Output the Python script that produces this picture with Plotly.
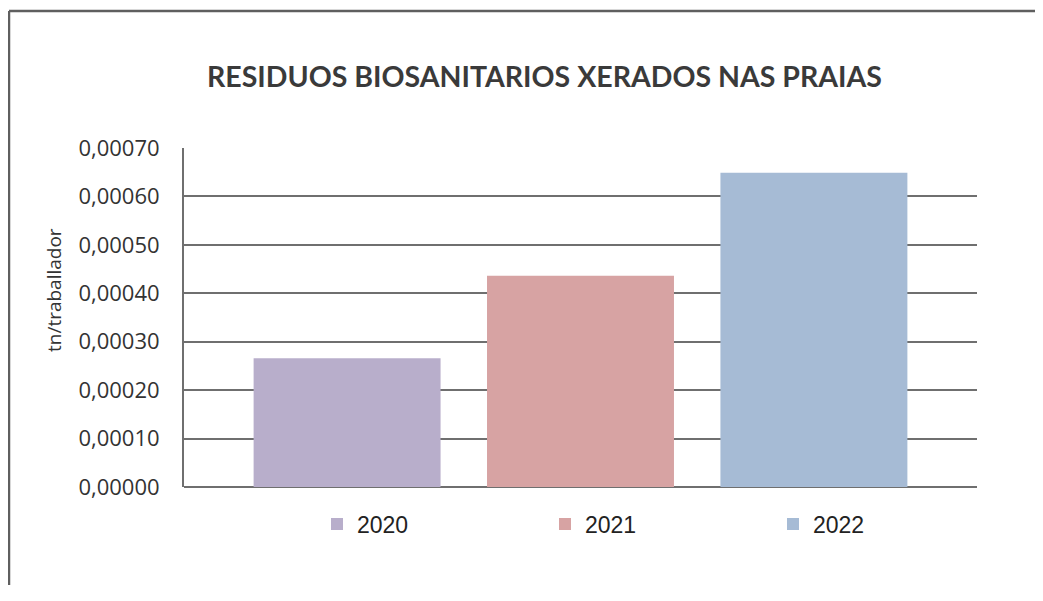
import plotly.graph_objects as go

years = ["2020", "2021", "2022"]
values = [0.000266, 0.000436, 0.000649]
colors = ["#b8aecb", "#d7a3a3", "#a6bbd5"]
y_ticks = [0.0, 0.0001, 0.0002, 0.0003, 0.0004, 0.0005, 0.0006, 0.0007]

OFF = 8  # page body margin
W, H = 1043 - 2 * OFF, 601 - 2 * OFF - 8
ML, MT = 184 - OFF, 148 - OFF
MR = (W + OFF) - 977
MB = (H + OFF) - 487
PW, PH = W - ML - MR, H - MT - MB

def px_x(p):
    return (p - OFF - ML) / PW

def px_y(p):
    return (H - MB - (p - OFF)) / PH

fig = go.Figure()
for yr, v, c in zip(years, values, colors):
    fig.add_trace(go.Bar(x=["Total"], y=[v], name=yr, marker=dict(color=c, line=dict(width=0))))

frame = dict(color="#5f5f5f", width=2.5)
fig.update_layout(
    width=W, height=H,
    margin=dict(l=ML, r=MR, t=MT, b=MB),
    paper_bgcolor="white", plot_bgcolor="white",
    barmode="group", bargap=0.117, bargroupgap=0.199,
    separators=",.",
    font=dict(family="Open Sans, Liberation Sans, Arial", color="#333333"),
    showlegend=True,
    legend=dict(orientation="h", x=px_x(317), xanchor="left", y=px_y(524), yanchor="middle",
                font=dict(family="Liberation Sans, Arial", size=23, color="#222222"),
                entrywidth=183, itemwidth=30, traceorder="normal", itemclick=False),
    xaxis=dict(showticklabels=False, showgrid=False, zeroline=False, showline=False, ticks=""),
    yaxis=dict(range=[0, 0.0007], tickvals=y_ticks, tickformat=".5f",
               showgrid=True, gridcolor="#6f6f6f", gridwidth=2,
               zeroline=True, zerolinecolor="#6f6f6f", zerolinewidth=2,
               showline=True, linecolor="#6f6f6f", linewidth=2,
               tickfont=dict(family="Open Sans", size=22, color="#333333"), ticklabelstandoff=18),
    annotations=[
        dict(text="<b>RESIDUOS BIOSANITARIOS XERADOS NAS PRAIAS</b>", xref="paper", yref="paper",
             x=px_x(544), y=px_y(76), xanchor="center", yanchor="middle", showarrow=False,
             font=dict(family="Lato, Open Sans", size=28.5, color="#3a3a3a")),
        dict(text="tn/traballador", xref="paper", yref="paper", textangle=-90,
             x=px_x(54), y=px_y(290), xanchor="center", yanchor="middle", showarrow=False,
             font=dict(family="Open Sans, Liberation Sans", size=19, color="#333333")),
    ],
    shapes=[
        dict(type="line", xref="paper", yref="paper", x0=px_x(9), x1=px_x(1043),
             y0=px_y(11), y1=px_y(11), line=frame, layer="below"),
        dict(type="line", xref="paper", yref="paper", x0=px_x(9), x1=px_x(9),
             y0=px_y(11), y1=px_y(601), line=frame, layer="below"),
    ],
)

fig.write_html("out.html")
